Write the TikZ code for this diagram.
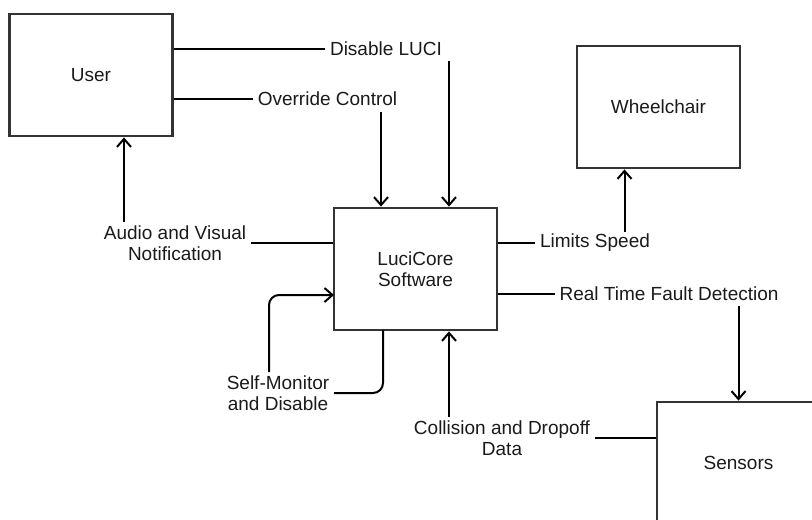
\documentclass[tikz,border=0pt]{standalone}
\usepackage{fontspec}
\setmainfont{Liberation Sans}
\usetikzlibrary{arrows.meta,positioning}
\definecolor{boxgray}{HTML}{333333}
\definecolor{inkgray}{HTML}{1A1A1A}
\begin{document}
\begin{tikzpicture}[x=0.5pt,y=-0.5pt,line width=1pt,
  every node/.style={font=\fontsize{9.5}{10.3}\selectfont,text=inkgray},
  box/.style={draw=boxgray,line width=1.4pt,minimum width=81.5pt,minimum height=61pt,align=center,inner sep=0pt},
  lbl/.style={align=center,inner sep=2pt},
  arr/.style={-{Straight Barb[length=4pt,width=7pt]}}]
\useasboundingbox (0,0) rectangle (812,519);
\clip (0,0) rectangle (812,519);
\node[box] (user) at (91,75) {User};
\node[box] (luci) at (415.5,269) {LuciCore\\Software};
\node[box] (chair) at (658.5,107) {Wheelchair};
\node[box] (sens) at (738.5,463) {Sensors};
\node[lbl] (dis) at (386,49) {Disable LUCI};
\node[lbl] (ovr) at (327.5,99) {Override Control};
\node[lbl] (aud) at (175,243) {Audio and Visual\\Notification};
\node[lbl] (lim) at (595,243) {Limits Speed};
\node[lbl] (rtf) at (669,294) {Real Time Fault Detection};
\node[lbl] (self) at (278,393) {Self-Monitor\\and Disable};
\node[lbl] (col) at (502,438) {Collision and Dropoff\\Data};
\coordinate (ovrdn) at (381,112);
\coordinate (audup) at (124,222);
\coordinate (limup) at (624.5,232);
\coordinate (colup) at (449,417);
\coordinate (selfout) at (383,330);
\coordinate (selfin) at (269,372);
\coordinate (selfback) at (334,295);
\draw (user.east |- dis.west) -- (dis.west);
\draw[arr] ([xshift=1pt]dis.south east) -- ([xshift=1pt]dis.south east |- luci.north);
\draw (user.east |- ovr.west) -- (ovr.west);
\draw[arr] (ovrdn) -- (ovrdn |- luci.north);
\draw[arr] (audup) -- (audup |- user.south);
\draw (aud.east) -- (aud.east -| luci.west);
\draw (luci.east |- lim.west) -- (lim.west);
\draw[arr] (limup) -- (limup |- chair.south);
\draw (luci.east |- rtf.west) -- (rtf.west);
\draw[arr] (rtf.south -| sens.north) -- (sens.north);
\draw[rounded corners=5pt] (selfout) |- (self.east);
\draw[arr,rounded corners=5pt] (selfin) |- (selfback);
\draw[arr] (colup) -- (colup |- luci.south);
\draw (col.east) -- (col.east -| sens.west);
\end{tikzpicture}
\end{document}
